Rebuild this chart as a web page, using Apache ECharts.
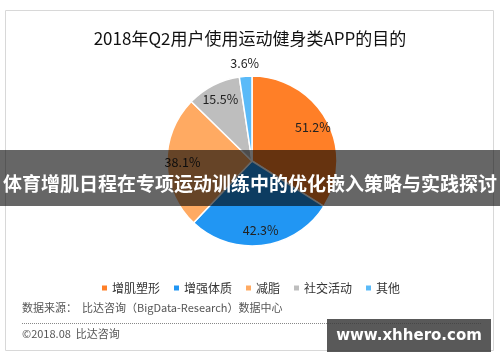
<!DOCTYPE html>
<html><head><meta charset="utf-8">
<script src="https://cdn.jsdelivr.net/npm/echarts@6/dist/echarts.min.js"></script>
<style>html,body{margin:0;padding:0;background:#fff}#c{width:500px;height:362px}</style>
</head><body><div id="c"></div>
<script>
const categories = ['增肌塑形', '增强体质', '减脂', '社交活动', '其他'];
const values = [51.2, 42.3, 38.1, 15.5, 3.6];
const colors = ['#FF7F27', '#2196F3', '#FFAA62', '#BEBEBE', '#5ABAF8'];
const titleText = '2018年Q2用户使用运动健身类APP的目的';
const bannerText = '体育增肌日程在专项运动训练中的优化嵌入策略与实践探讨';
const sourceText = '数据来源：  比达咨询（BigData-Research）数据中心';
const copyText = '©2018.08  比达咨询';
const watermark = 'www.xhhero.com';

const data = categories.map((n, i) => ({ name: n, value: values[i], itemStyle: { color: colors[i] } }));
const FONT = '"Noto Sans CJK SC", "Noto Sans", sans-serif';
const center = [252, 161];
const chart = echarts.init(document.getElementById('c'), null, { renderer: 'canvas' });
chart.setOption({
  animation: false,
  title: { text: titleText, left: 'center', top: 25, textStyle: { fontSize: 17, fontWeight: 'normal', color: '#111', fontFamily: FONT } },
  legend: {
    data: categories, top: 277, left: 'center', icon: 'rect', itemWidth: 7, itemHeight: 7, itemGap: 12,
    textStyle: { fontSize: 12, color: '#333', fontFamily: FONT, padding: [0, 0, 0, -1] }
  },
  series: [
    {
      type: 'pie', center: center, radius: [0, 85], startAngle: 90, clockwise: true,
      data: data, label: { show: false }, labelLine: { show: false },
      itemStyle: { borderColor: '#fff', borderWidth: 1.5 }, silent: true
    },
    {
      type: 'pie', center: center, radius: [48, 85], startAngle: 90, clockwise: true,
      data: data.map(d => ({ name: d.name, value: d.value })), silent: true, legendHoverLink: false,
      itemStyle: { color: 'rgba(0,0,0,0)' },
      label: { show: true, position: 'inside', fontSize: 12.5, color: '#222', fontFamily: FONT,
        formatter: p => p.value >= 10 ? p.value.toFixed(1) + '%' : '' },
      labelLine: { show: false }
    },
    {
      type: 'pie', center: center, radius: [85, 105], startAngle: 90, clockwise: true,
      data: data.map(d => ({ name: d.name, value: d.value })), silent: true, legendHoverLink: false,
      itemStyle: { color: 'rgba(0,0,0,0)' },
      label: { show: true, position: 'inside', fontSize: 12.5, color: '#222', fontFamily: FONT,
        formatter: p => p.value < 10 ? p.value.toFixed(1) + '%' : '' },
      labelLine: { show: false }
    }
  ],
  graphic: [
    { type: 'rect', z: -10, shape: { x: 5.5, y: 10.5, width: 488, height: 340 }, style: { fill: 'none', stroke: '#d8d8d8', lineWidth: 1 } },
    { type: 'text', z: 10, left: 22, top: 302, style: { text: sourceText, fontSize: 11, fill: '#555', fontFamily: FONT } },
    { type: 'line', z: 10, shape: { x1: 22, y1: 323.5, x2: 481, y2: 323.5 }, style: { stroke: '#888', lineWidth: 1, lineDash: [1, 1] } },
    { type: 'text', z: 10, left: 22, top: 328, style: { text: copyText, fontSize: 11, fill: '#555', fontFamily: FONT } },
    { type: 'rect', z: 100, shape: { x: 0, y: 150, width: 500, height: 56 }, style: { fill: 'rgba(0,0,0,0.6)' } },
    { type: 'text', z: 101, x: 250, y: 184, style: { text: bannerText, fontSize: 19, fontWeight: 'bold', fill: '#fff', fontFamily: FONT, align: 'center', verticalAlign: 'middle' } },
    { type: 'rect', z: 100, shape: { x: 327, y: 319, width: 164, height: 33 }, style: { fill: 'rgba(60,60,60,0.85)' } },
    { type: 'text', z: 101, x: 409, y: 336, style: { text: watermark, fontSize: 15, fontWeight: 'bold', fill: '#fff', fontFamily: '"DejaVu Sans", sans-serif', align: 'center', verticalAlign: 'middle' } }
  ]
});
</script></body></html>
